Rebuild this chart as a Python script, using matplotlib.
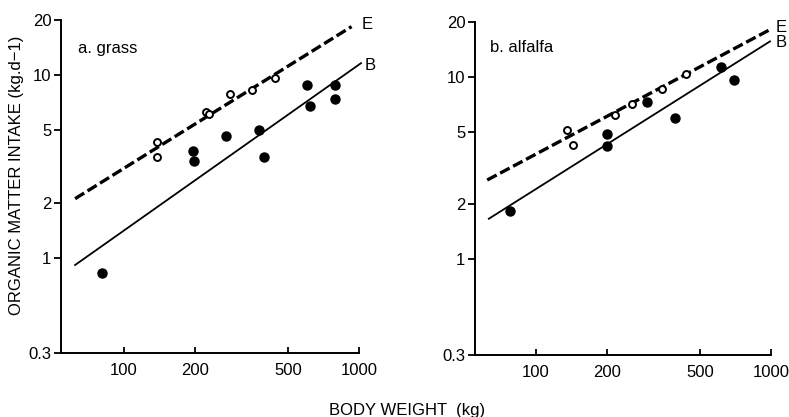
import matplotlib
matplotlib.use("Agg")
import matplotlib.pyplot as plt
from matplotlib.ticker import FixedLocator, FixedFormatter, NullLocator

plt.rcParams["font.family"] = ["Liberation Sans", "DejaVu Sans"]

# a. grass
grass_open_x = [138, 138, 223, 230, 282, 351, 439]
grass_open_y = [4.3, 3.55, 6.3, 6.14, 7.84, 8.23, 9.6]
grass_fill_x = [80.6, 197, 199, 272, 375, 394, 601, 618, 791, 791]
grass_fill_y = [0.82, 3.82, 3.38, 4.64, 4.99, 3.55, 8.85, 6.77, 8.85, 7.37]
grass_e_x = [62, 930]
grass_e_y = [2.1, 18.4]
grass_b_x = [62, 1020]
grass_b_y = [0.91, 11.6]

# b. alfalfa
alf_open_x = [135, 143, 217, 257, 345, 435]
alf_open_y = [5.14, 4.25, 6.17, 7.05, 8.53, 10.4]
alf_fill_x = [77.5, 200, 200, 296, 390, 612, 697]
alf_fill_y = [1.83, 4.83, 4.2, 7.28, 5.95, 11.3, 9.56]
alf_e_x = [62, 990]
alf_e_y = [2.72, 18.1]
alf_b_x = [63, 990]
alf_b_y = [1.67, 15.6]

x_ticks = [100, 200, 500, 1000]
x_labels = ["100", "200", "500", "1000"]
y_ticks = [0.3, 1, 2, 5, 10, 20]
y_labels = ["0.3", "1", "2", "5", "10", "20"]

FS = 12


def style_axis(ax, xmin):
    ax.set_xscale("log")
    ax.set_yscale("log")
    ax.set_xlim(xmin, 1000)
    ax.set_ylim(0.3, 20)
    for s in ["top", "right"]:
        ax.spines[s].set_visible(False)
    for s in ["left", "bottom"]:
        ax.spines[s].set_linewidth(1.4)
    ax.xaxis.set_major_locator(FixedLocator(x_ticks))
    ax.xaxis.set_major_formatter(FixedFormatter(x_labels))
    ax.yaxis.set_major_locator(FixedLocator(y_ticks))
    ax.yaxis.set_major_formatter(FixedFormatter(y_labels))
    ax.xaxis.set_minor_locator(NullLocator())
    ax.yaxis.set_minor_locator(NullLocator())
    ax.tick_params(axis="x", direction="in", length=4, width=1.3, pad=7, labelsize=FS)
    ax.tick_params(axis="y", direction="out", length=5, width=1.3, pad=2, labelsize=FS)


def draw_panel(ax, ox, oy, fx, fy, ex, ey, bx, by):
    ax.plot(ex, ey, color="black", lw=2.4, dashes=(3.2, 1.2), clip_on=False)
    ax.plot(bx, by, color="black", lw=1.3, clip_on=False)
    ax.plot(fx, fy, "o", color="black", ms=6.5, clip_on=False)
    ax.plot(ox, oy, "o", mfc="white", mec="black", mew=1.4, ms=5, clip_on=False)


fig = plt.figure(figsize=(7.89, 4.17), dpi=100)
ax1 = fig.add_axes([0.0773, 0.1535, 0.3777, 0.7986])
ax2 = fig.add_axes([0.602, 0.1487, 0.3752, 0.7993])

style_axis(ax1, 54)
style_axis(ax2, 55)

draw_panel(ax1, grass_open_x, grass_open_y, grass_fill_x, grass_fill_y,
           grass_e_x, grass_e_y, grass_b_x, grass_b_y)
draw_panel(ax2, alf_open_x, alf_open_y, alf_fill_x, alf_fill_y,
           alf_e_x, alf_e_y, alf_b_x, alf_b_y)

ax1.text(1082, 18.8, "E", ha="center", va="center", fontsize=FS)
ax1.text(1113, 11.3, "B", ha="center", va="center", fontsize=FS)
ax2.text(1100, 18.6, "E", ha="center", va="center", fontsize=FS)
ax2.text(1100, 15.3, "B", ha="center", va="center", fontsize=FS)

ax1.text(0.057, 0.913, "a. grass", transform=ax1.transAxes,
         ha="left", va="center", fontsize=FS)
ax2.text(0.051, 0.924, "b. alfalfa", transform=ax2.transAxes,
         ha="left", va="center", fontsize=FS)

fig.text(0.516, 0.016, "BODY WEIGHT  (kg)", ha="center", va="center", fontsize=FS)
fig.text(0.0215, 0.58, "ORGANIC MATTER INTAKE (kg.d\u22121)", rotation=90,
         ha="center", va="center", fontsize=FS)

fig.savefig("out.png", dpi=100)
plt.close(fig)
